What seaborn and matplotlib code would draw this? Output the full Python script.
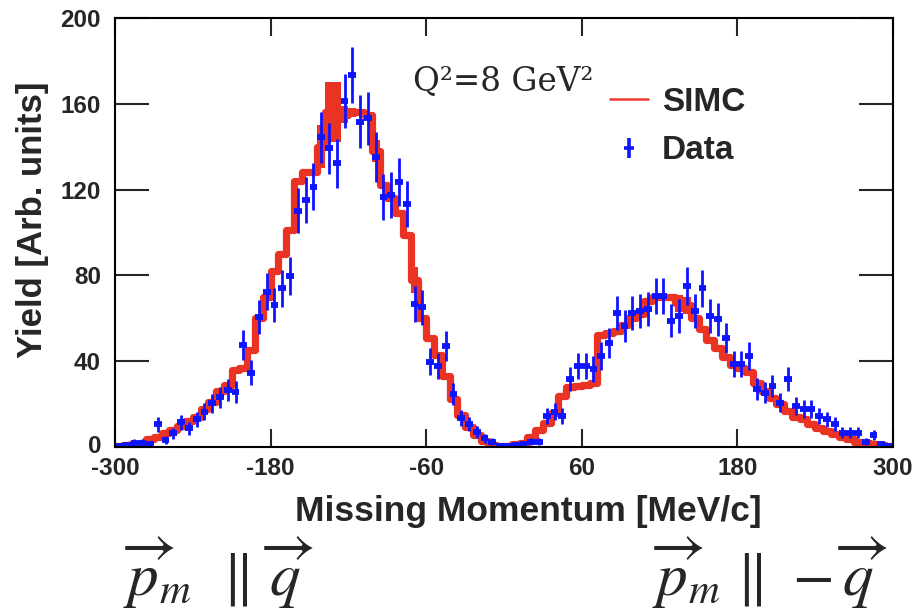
import numpy as np
import pandas as pd
import matplotlib
matplotlib.use("Agg")
import matplotlib.pyplot as plt
import matplotlib.transforms as mtransforms
import seaborn as sns
from matplotlib.lines import Line2D
from matplotlib.legend_handler import HandlerErrorbar
from matplotlib.container import ErrorbarContainer

# ---------------- data ----------------
bin_width = 6
centers = np.arange(-297, 300, bin_width)          # 100 bins, -300 .. 300 MeV/c

data_y = [0.5, 1.0, 2.0, 2.0, 1.5, 10.5, 3.3, 6.4, 11.5, 8.7,
          12.9, 16.5, 20.4, 23.2, 26.6, 25.8, 47.6, 34.6, 60.7, 72.4,
          66.2, 74.0, 79.9, 110.2, 115.2, 121.4, 144.4, 139.3, 132.3, 161.4,
          173.4, 151.7, 153.2, 135.1, 116.4, 117.5, 123.5, 113.3, 66.7, 65.1,
          39.8, 37.8, 47.1, 24.7, 13.4, 10.7, 7.1, 4.0, 2.5, 0.5,
          0.3, 1.0, 1.5, 2.5, 2.5, 14.5, 16.5, 14.5, 31.6, 37.8,
          37.8, 36.2, 42.4, 48.6, 62.6, 56.4, 62.6, 63.5, 64.2, 70.4,
          70.4, 58.9, 61.1, 75.1, 63.5, 74.0, 61.1, 59.5, 50.7, 38.7,
          38.7, 42.4, 26.9, 25.3, 28.4, 20.7, 31.6, 19.1, 17.6, 17.6,
          14.5, 12.9, 10.7, 6.7, 6.7, 6.7, 2.5, 5.6, 1.5, 0.5]

data_err = [1.0, 1.2, 1.5, 1.5, 1.4, 3.3, 1.9, 2.5, 3.4, 3.0,
            3.6, 4.0, 4.5, 4.8, 5.1, 5.1, 6.9, 5.9, 7.8, 8.5,
            8.1, 8.6, 8.9, 10.5, 10.7, 11.0, 12.0, 11.8, 11.5, 12.7,
            13.2, 12.3, 12.4, 11.6, 10.8, 10.8, 11.1, 10.6, 8.2, 8.1,
            6.3, 6.1, 6.9, 5.0, 3.7, 3.3, 2.7, 2.0, 1.6, 1.0,
            0.8, 1.2, 1.4, 1.6, 1.6, 3.8, 4.1, 3.8, 5.6, 6.1,
            6.1, 6.0, 6.5, 7.0, 7.9, 7.5, 7.9, 8.0, 8.0, 8.4,
            8.4, 7.7, 7.8, 8.7, 8.0, 8.6, 7.8, 7.7, 7.1, 6.2,
            6.2, 6.5, 5.2, 5.0, 5.3, 4.5, 5.6, 4.4, 4.2, 4.2,
            3.8, 3.6, 3.3, 2.6, 2.6, 2.6, 1.6, 2.4, 1.4, 1.0]

simc_y = [0.5, 1.0, 1.5, 1.5, 3.5, 4.5, 6.5, 8.0, 10.0, 12.0,
          14.0, 17.5, 21.0, 26.0, 29.0, 36.0, 37.0, 45.0, 60.0, 70.0,
          82.0, 90.0, 101.0, 124.0, 128.0, 128.0, 140.0, 156.0, 156.0, 155.0,
          156.0, 156.0, 155.0, 138.0, 122.0, 116.0, 109.0, 99.0, 78.0, 60.0,
          51.0, 43.0, 33.0, 22.5, 15.0, 9.5, 5.5, 3.0, 1.0, 0.3,
          0.3, 1.5, 2.0, 4.5, 8.0, 11.0, 16.0, 24.0, 28.0, 28.5,
          29.0, 30.0, 52.0, 53.0, 54.0, 57.0, 60.0, 62.0, 68.0, 70.0,
          70.0, 70.0, 67.0, 66.0, 60.0, 55.0, 50.0, 46.0, 42.0, 38.0,
          37.0, 35.0, 30.0, 26.0, 23.0, 20.0, 17.0, 14.0, 13.0, 10.5,
          9.0, 7.5, 6.0, 4.5, 3.5, 2.5, 2.0, 1.2, 0.8, 0.5]

simc_err = [0, 0, 0, 0, 0, 0, 0, 0, 0, 0,
            0, 0, 0, 0, 0, 0, 0, 0, 0, 0,
            0, 0, 0, 0, 0, 0, 10, 14, 14, 4,
            2, 0, 0, 5, 0, 0, 0, 0, 6, 0,
            0, 0, 0, 0, 0, 0, 0, 0, 0, 0,
            0, 0, 0, 0, 0, 0, 0, 0, 0, 0,
            0, 0, 0, 0, 0, 0, 0, 0, 0, 0,
            0, 0, 4, 4, 0, 0, 0, 0, 0, 0,
            0, 0, 0, 0, 0, 0, 0, 0, 0, 0,
            0, 0, 0, 0, 0, 0, 0, 0, 0, 0]

x_ticks = [-300, -180, -60, 60, 180, 300]
y_ticks = [0, 40, 80, 120, 160, 200]

df = pd.DataFrame({"pm": centers, "simc": simc_y, "simc_err": simc_err,
                   "data": data_y, "data_err": data_err})

RED = "#ea3323"
BLUE = "#0f14ff"

# ---------------- style ----------------
sns.set_style("ticks")
plt.rcParams["font.family"] = ["Liberation Sans", "DejaVu Sans"]
plt.rcParams["mathtext.fontset"] = "stix"

W, H = 915, 614
fig = plt.figure(figsize=(W / 100, H / 100), dpi=100)
ax = fig.add_axes([115 / W, 1 - 447 / H, 778 / W, 429 / H])

# SIMC: thick step histogram + error band
lo = df["simc"] - df["simc_err"]
hi = df["simc"] + df["simc_err"]
ax.fill_between(df["pm"], lo, hi, step="mid", color=RED, lw=0)
sns.histplot(data=df, x="pm", weights="simc", binwidth=bin_width,
             binrange=(-300, 300), element="step", fill=False, color=RED,
             linewidth=5.2, ax=ax)

# Data: cross-shaped error bars
ax.errorbar(df["pm"], df["data"], yerr=df["data_err"], fmt="none",
            ecolor=BLUE, elinewidth=2.0, capsize=0)
ax.errorbar(df["pm"], df["data"], xerr=bin_width / 2, fmt="none",
            ecolor=BLUE, elinewidth=4.2, capsize=0)

ax.set_xlim(-300, 300)
ax.set_ylim(0, 200)
ax.set_xticks(x_ticks)
ax.set_yticks(y_ticks)
ax.set_xticklabels([str(t) for t in x_ticks])
ax.set_yticklabels([str(t) for t in y_ticks])
ax.set_xlabel("")
ax.set_ylabel("")

for s in ax.spines.values():
    s.set_visible(True)
    s.set_linewidth(1.5)
    s.set_color("black")

ax.tick_params(axis="x", direction="in", length=13, width=1.5, top=True,
               bottom=True, pad=7.5, labelsize=17.5)
ax.tick_params(axis="y", direction="in", length=24.5, width=1.5, left=True,
               right=True, pad=10, labelsize=17.5)
for lab in ax.get_xticklabels() + ax.get_yticklabels():
    lab.set_fontweight("bold")

# nudge the "0" y label up a little so it does not collide with "-300"
zero_lab = ax.get_yticklabels()[0]
zero_lab.set_transform(zero_lab.get_transform() +
                       mtransforms.ScaledTranslation(0, 3 / 100, fig.dpi_scale_trans))

# Axis titles
fig.text(528 / W, 1 - 512 / H, "Missing Momentum [MeV/c]", ha="center",
         va="center", fontsize=25.5, fontweight="bold")
fig.text(33 / W, 1 - 220 / H, "Yield [Arb. units]", ha="center",
         va="center", rotation=90, fontsize=25, fontweight="bold")

# Q^2 label
fig.text(413 / W, 1 - 90 / H, "Q²=8 GeV²", ha="left", va="baseline",
         fontsize=23.5, family=["DejaVu Serif"])

# Legend
data_handle = ax.errorbar([], [], xerr=[], yerr=[], fmt="none", ecolor=BLUE,
                          elinewidth=2.6, capsize=0)
handles = [Line2D([], [], color="#f03a30", lw=1.8), data_handle]
leg = ax.legend(handles, ["SIMC", "Data"], loc="upper left",
                bbox_to_anchor=(610 / W, 1 - 87 / H),
                bbox_transform=fig.transFigure, frameon=False,
                prop={"weight": "bold", "size": 24}, handlelength=1.15,
                handletextpad=0.4, labelspacing=0.52, borderpad=0,
                borderaxespad=0,
                handler_map={ErrorbarContainer: HandlerErrorbar(xerr_size=0.15,
                                                                yerr_size=0.3)})

# Direction annotations below the axis
fig.text(123 / W, 1 - 596 / H, r"$\overrightarrow{p}_m\ \ \Vert\ \overrightarrow{q}$",
         ha="left", va="baseline", fontsize=44)
fig.text(652 / W, 1 - 596 / H, r"$\overrightarrow{p}_m\ \Vert\ -\overrightarrow{q}$",
         ha="left", va="baseline", fontsize=44)

fig.savefig("out.png", dpi=100)
